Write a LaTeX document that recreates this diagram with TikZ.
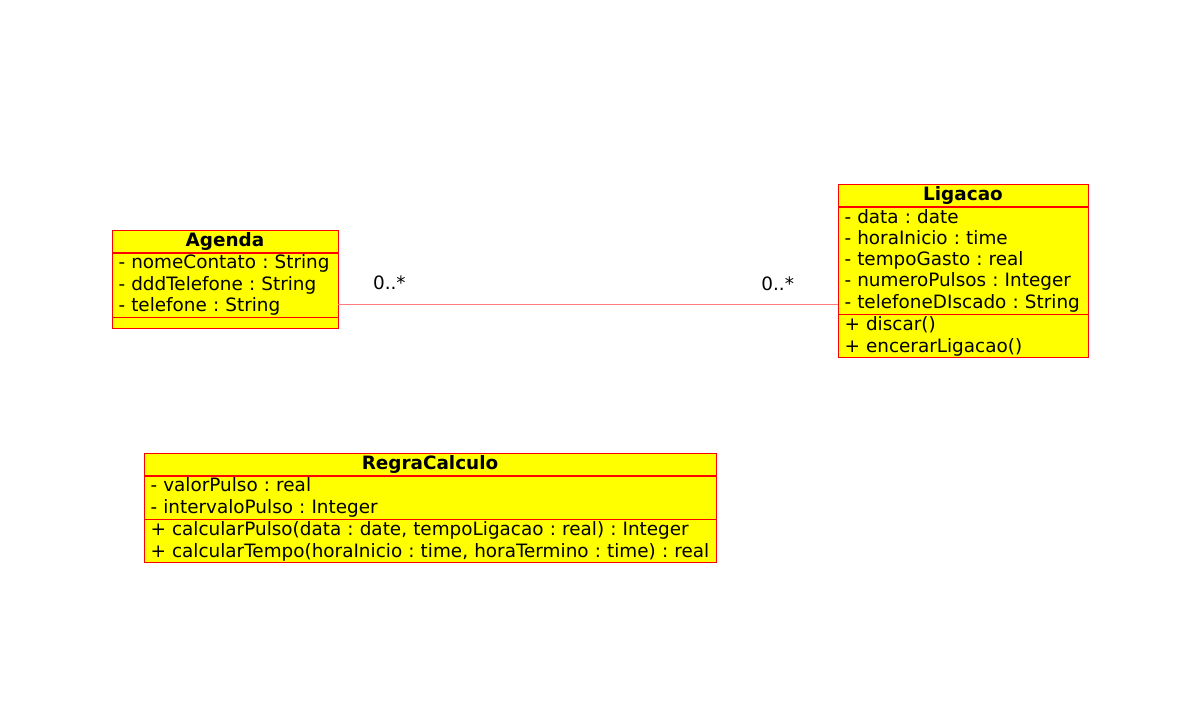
\documentclass[tikz,border=0pt]{standalone}
\usepackage{fontspec}
\setmainfont{DejaVu Sans}
\usetikzlibrary{positioning}
\definecolor{classfill}{HTML}{FFFF00}
\definecolor{classline}{HTML}{FF0000}
\definecolor{assocline}{HTML}{FF7A7A}
\frenchspacing

\begin{document}
\begin{tikzpicture}[
    x=1pt, y=1pt,
    node distance=0pt,
    title/.style={rectangle, draw=classline, fill=classfill, line width=0.9pt, inner sep=0pt, minimum height=21.3pt, font=\fontsize{18.4}{21.3}\selectfont\bfseries},
    members/.style={rectangle, draw=classline, fill=classfill, line width=0.9pt, inner xsep=6.5pt, inner ysep=0pt, align=left, font=\fontsize{18.4}{21.3}\selectfont\frenchspacing},
    mult/.style={inner sep=0pt, font=\fontsize{18.4}{21.3}\selectfont}
  ]
\useasboundingbox (0,0) rectangle (1179,708);

% Agenda
\node[title, minimum width=226pt] (agenda) at (225,466.5) {Agenda};
\node[members, text width=213pt, minimum height=64pt, below=of agenda] (agendaA) {- nomeContato : String\\- dddTelefone : String\\- telefone : String};
\node[members, text width=213pt, minimum height=11pt, below=of agendaA] (agendaM) {};

% Ligacao
\node[title, minimum width=250pt] (ligacao) at (963,512.5) {Ligacao};
\node[members, text width=237pt, minimum height=107pt, below=of ligacao] (ligacaoA) {- data : date\\- horaInicio : time\\- tempoGasto : real\\- numeroPulsos : Integer\\- telefoneDIscado : String};
\node[members, text width=237pt, minimum height=43pt, below=of ligacaoA] (ligacaoM) {+ discar()\\+ encerarLigacao()};

% RegraCalculo
\node[title, minimum width=572pt] (regra) at (430,243.5) {RegraCalculo};
\node[members, text width=559pt, minimum height=43pt, below=of regra] (regraA) {- valorPulso : real\\- intervaloPulso : Integer};
\node[members, text width=559pt, minimum height=43pt, below=of regraA] (regraM) {\mbox{+ calcularPulso(data : date, tempoLigacao : real) : Integer}\\\mbox{+ calcularTempo(horaInicio : time, horaTermino : time) : real}};

% Association
\coordinate (link) at (0,403);
\draw[assocline, line width=1pt] (agendaA.east |- link) -- node[mult, pos=0.102, above=15pt, text=black] (multA) {0..*} node[mult, pos=0.88, above=14pt, text=black] (multL) {0..*} (ligacaoA.west |- link);

\end{tikzpicture}
\end{document}
